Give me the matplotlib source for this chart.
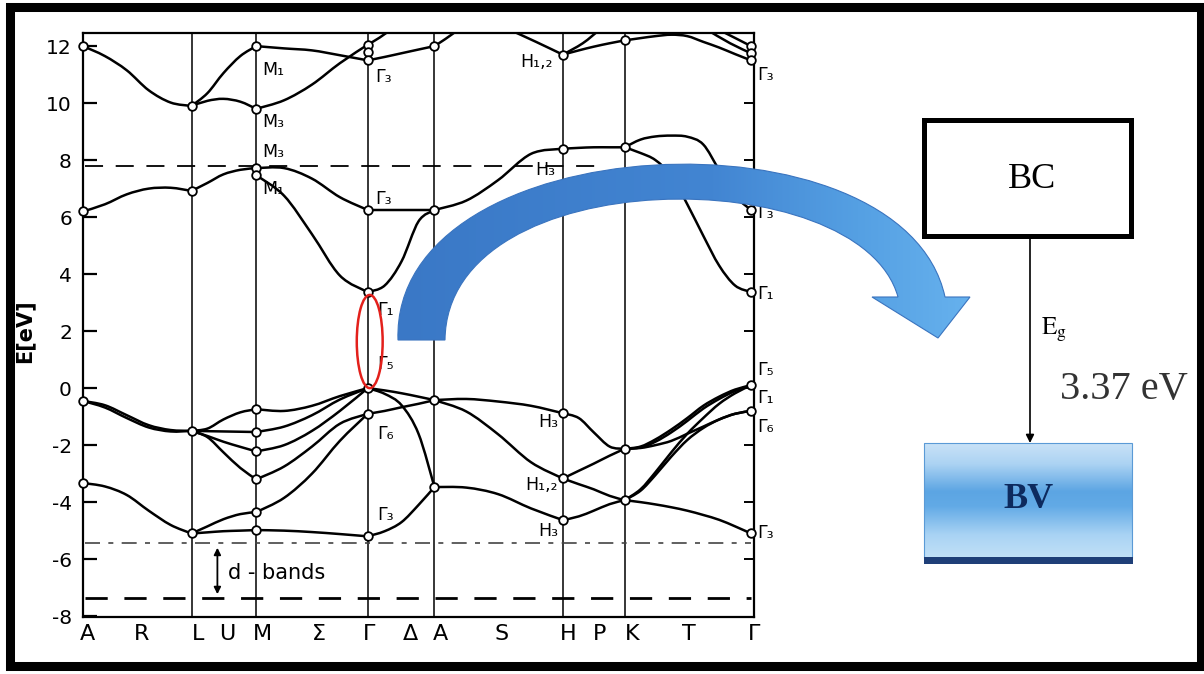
import numpy as np
import matplotlib
matplotlib.use("Agg")
import matplotlib.pyplot as plt
from matplotlib.path import Path
from matplotlib.patches import PathPatch, Rectangle, Ellipse
from matplotlib.colors import LinearSegmentedColormap

plt.rcParams["font.family"] = ["DejaVu Sans"]
plt.rcParams["mathtext.fontset"] = "stix"

W, H = 1204, 674

# ---------------------------------------------------------------- data ----
# high-symmetry points along the k-path (path-length units)
sym_k = [0.00, 1.09, 1.74, 2.86, 3.53, 4.82, 5.44, 6.71]

# labels under the axis (points and lines of the Brillouin zone)
path_labels = ["A", "R", "L", "U", "M", "Σ", "Γ", "Δ", "A", "S", "H", "P", "K", "T", "Γ"]
path_label_k = [0.04, 0.59, 1.16, 1.45, 1.80, 2.37, 2.87, 3.29, 3.59, 4.20, 4.87, 5.19, 5.52, 6.09, 6.74]

energy_ticks = [12, 10, 8, 6, 4, 2, 0, -2, -4, -6, -8]
energy_ticks_right = [10, 8, 6, 4, 2, 0, -2, -4, -6]

gap_eV = 3.37          # direct gap at Γ
level_upper = 7.8      # dashed reference level in the conduction bands
dband_top = -5.45      # d-band window
dband_bottom = -7.35

# A -> L
k_AL = [0.00, 0.22, 0.44, 0.66, 0.88, 1.09]
E_AL = [
    [12.0, 11.65, 11.15, 10.45, 10.02, 9.9],
    [6.2, 6.45, 6.8, 7.0, 7.03, 6.92],
    [-0.45, -0.6, -0.95, -1.3, -1.47, -1.5],
    [-0.45, -0.68, -1.05, -1.38, -1.52, -1.5],
    [-3.33, -3.45, -3.75, -4.3, -4.8, -5.1],
]
# L -> M
k_LM = [1.09, 1.25, 1.41, 1.58, 1.74]
E_LM = [
    [9.9, 10.35, 11.05, 11.65, 12.0],
    [9.9, 10.08, 10.15, 10.05, 9.8],
    [6.92, 7.2, 7.5, 7.66, 7.72],
    [-1.5, -1.42, -1.1, -0.85, -0.74],
    [-1.5, -1.51, -1.52, -1.53, -1.54],
    [-1.5, -1.68, -1.88, -2.06, -2.22],
    [-1.5, -1.72, -2.25, -2.8, -3.2],
    [-5.1, -4.85, -4.6, -4.42, -4.35],
    [-5.1, -5.06, -5.02, -5.0, -4.98],
]
# M -> Γ
k_MG = [1.74, 2.02, 2.30, 2.58, 2.86]
E_MG = [
    [12.0, 11.92, 11.85, 11.68, 11.5],
    [9.8, 10.1, 10.65, 11.4, 12.05],
    [7.72, 7.72, 7.35, 6.7, 6.25],
    [7.47, 6.75, 5.4, 3.95, gap_eV],
    [-0.74, -0.8, -0.62, -0.28, 0.0],
    [-1.54, -1.35, -0.95, -0.4, 0.0],
    [-2.22, -2.0, -1.5, -0.8, 0.0],
    [-3.2, -2.75, -2.05, -1.25, -0.9],
    [-4.35, -3.85, -3.0, -1.85, -0.9],
    [-4.98, -5.0, -5.05, -5.12, -5.2],
]
# Γ -> A
k_GA = [2.86, 3.03, 3.20, 3.37, 3.53]
E_GA = [
    [11.5, 11.62, 11.75, 11.88, 12.0],
    [6.25, 6.25, 6.25, 6.25, 6.25],
    [gap_eV, 3.6, 4.45, 5.85, 6.25],
    [0.0, -0.08, -0.18, -0.3, -0.42],
    [-0.9, -0.8, -0.67, -0.55, -0.42],
    [0.0, -0.2, -0.6, -1.6, -3.47],
    [-5.2, -5.02, -4.7, -4.1, -3.47],
]
# A -> H
k_AH = [3.53, 3.85, 4.17, 4.50, 4.82]
E_AH = [
    [6.25, 6.58, 7.3, 8.22, 8.4],
    [-0.42, -0.38, -0.47, -0.62, -0.88],
    [-0.42, -0.82, -1.62, -2.6, -3.17],
    [-3.47, -3.49, -3.72, -4.22, -4.63],
]
# H -> K
k_HK = [4.82, 4.98, 5.13, 5.29, 5.44]
E_HK = [
    [11.7, 11.85, 11.98, 12.1, 12.2],
    [8.4, 8.43, 8.45, 8.45, 8.45],
    [-0.88, -1.05, -1.55, -2.05, -2.13],
    [-3.17, -2.9, -2.65, -2.37, -2.13],
    [-3.17, -3.37, -3.55, -3.78, -3.93],
    [-4.63, -4.5, -4.3, -4.07, -3.93],
]
# K -> Γ
k_KG = [5.44, 5.60, 5.75, 5.91, 6.07, 6.23, 6.39, 6.55, 6.71]
E_KG = [
    [12.2, 12.28, 12.35, 12.4, 12.35, 12.15, 11.95, 11.72, 11.5],
    [8.45, 8.72, 8.83, 8.86, 8.82, 8.55, 7.65, 6.75, 6.25],
    [8.45, 8.25, 8.0, 7.45, 6.45, 5.35, 4.3, 3.6, gap_eV],
    [-2.13, -2.05, -1.8, -1.45, -1.05, -0.62, -0.3, -0.05, 0.1],
    [-2.13, -2.08, -1.88, -1.55, -1.15, -0.72, -0.38, -0.1, 0.1],
    [-2.13, -2.1, -2.0, -1.85, -1.6, -1.35, -1.1, -0.9, -0.8],
    [-3.93, -3.55, -2.95, -2.25, -1.6, -1.05, -0.55, -0.18, 0.1],
    [-3.93, -3.6, -3.05, -2.4, -1.82, -1.4, -1.1, -0.9, -0.8],
    [-3.93, -4.0, -4.08, -4.18, -4.3, -4.45, -4.62, -4.85, -5.1],
]
# short pieces of the upper bands that leave the frame
top_k = [[2.86, 2.98, 3.10], [3.53, 3.64, 3.76], [4.30, 4.55, 4.82],
         [4.82, 5.02, 5.18], [6.40, 6.57, 6.71], [6.28, 6.50, 6.71]]
top_E = [[12.05, 12.3, 12.6], [12.0, 12.25, 12.55], [12.55, 12.15, 11.7],
         [11.7, 12.1, 12.55], [12.55, 12.25, 12.0], [12.55, 12.1, 11.75]]

# band energies at the symmetry points (open circles)
nodes_A1 = [12.0, 6.2, -0.45, -3.33]
nodes_L = [9.9, 6.92, -1.5, -5.1]
nodes_M = [12.0, 9.8, 7.72, 7.47, -0.74, -1.54, -2.22, -3.2, -4.35, -4.98]
nodes_G1 = [12.05, 11.78, 11.5, 6.25, gap_eV, 0.0, -0.9, -5.2]
nodes_A2 = [12.0, 6.25, -0.42, -3.47]
nodes_H = [11.7, 8.4, -0.88, -3.17, -4.63]
nodes_K = [12.2, 8.45, -2.13, -3.93]
nodes_G2 = [12.0, 11.75, 11.5, 6.25, gap_eV, 0.1, -0.8, -5.1]

# irreducible-representation labels
rep_left_text = ["M₁", "M₃", "M₃", "M₁", "Γ₃", "Γ₃", "Γ₁", "Γ₅", "Γ₆", "Γ₃",
                 "Γ₃", "Γ₃", "Γ₁", "Γ₅", "Γ₁", "Γ₆", "Γ₃"]
rep_left_k = [1.80, 1.80, 1.80, 1.80, 2.94, 2.94, 2.96, 2.96, 2.96, 2.96,
              6.77, 6.77, 6.77, 6.77, 6.77, 6.77, 6.77]
rep_left_E = [11.15, 9.33, 8.28, 7.0, 10.9, 6.65, 2.75, 0.85, -1.6, -4.45,
              11.0, 6.15, 3.3, 0.63, -0.35, -1.37, -5.1]
rep_right_text = ["H₁,₂", "H₃", "H₃", "H₁,₂", "H₃"]
rep_right_k = [4.72, 4.74, 4.77, 4.77, 4.77]
rep_right_E = [11.45, 7.65, -1.2, -3.4, -5.0]


# ------------------------------------------------------------- helpers ----
def smooth_path(xs, ys):
    """Cubic Bezier path through the given points (Catmull-Rom tangents)."""
    p = np.column_stack([xs, ys]).astype(float)
    n = len(p)
    verts = [p[0]]
    codes = [Path.MOVETO]
    for i in range(n - 1):
        p0 = p[i - 1] if i > 0 else p[i]
        p1, p2 = p[i], p[i + 1]
        p3 = p[i + 2] if i + 2 < n else p[i + 1]
        verts += [p1 + (p2 - p0) / 6.0, p2 - (p3 - p1) / 6.0, p2]
        codes += [Path.CURVE4] * 3
    return Path(verts, codes)


def draw_band(ax, xs, ys, lw=1.8):
    ax.add_patch(PathPatch(smooth_path(xs, ys), fill=False, edgecolor="black",
                           lw=lw, capstyle="round", joinstyle="round", zorder=3))


# -------------------------------------------------------------- figure ----
fig = plt.figure(figsize=(W / 100, H / 100), dpi=100, facecolor="white")

ax = fig.add_axes([83 / W, 1 - 617 / H, 671 / W, 584 / H])
ax.set_xlim(sym_k[0], sym_k[-1])
ax.set_ylim(-8.03, 12.46)
for s in ax.spines.values():
    s.set_linewidth(1.6)

for kx in sym_k[1:-1]:
    ax.axvline(kx, color="black", lw=1.1, zorder=2)

for k_seg, E_seg in [(k_AL, E_AL), (k_LM, E_LM), (k_MG, E_MG), (k_GA, E_GA),
                     (k_AH, E_AH), (k_HK, E_HK), (k_KG, E_KG)]:
    for band in E_seg:
        draw_band(ax, k_seg, band)
for kk, ee in zip(top_k, top_E):
    draw_band(ax, kk, ee)

for kx, nodes in zip(sym_k, [nodes_A1, nodes_L, nodes_M, nodes_G1,
                             nodes_A2, nodes_H, nodes_K, nodes_G2]):
    ax.plot([kx] * len(nodes), nodes, "o", ms=6.2, mfc="white", mec="black",
            mew=1.3, zorder=4, clip_on=False)

# reference levels
ax.plot([0.02, 5.2], [level_upper] * 2, color="black", lw=1.3,
        dashes=(10, 7), zorder=2)
ax.plot([0.02, sym_k[-1]], [dband_top] * 2, color="#444444", lw=1.2,
        dashes=(9, 5, 3, 5), zorder=2)
ax.plot([0.02, sym_k[-1]], [dband_bottom] * 2, color="black", lw=2.0,
        dashes=(8, 6), zorder=2)
ax.annotate("", xy=(1.35, dband_bottom + 0.12), xytext=(1.35, dband_top - 0.15),
            arrowprops=dict(arrowstyle="<|-|>", color="black", lw=1.3,
                            mutation_scale=10, shrinkA=0, shrinkB=0))
ax.text(1.46, (dband_top + dband_bottom) / 2 - 0.1, "d - bands", fontsize=15,
        va="center", ha="left")

for t, kx, ey in zip(rep_left_text, rep_left_k, rep_left_E):
    ax.text(kx, ey, t, fontsize=12.5, ha="left", va="center", zorder=5)
for t, kx, ey in zip(rep_right_text, rep_right_k, rep_right_E):
    ax.text(kx, ey, t, fontsize=12.5, ha="right", va="center", zorder=5)

# highlighted gap at Γ
ax.add_patch(Ellipse((sym_k[3] + 0.02, gap_eV / 2 - 0.05), width=0.26,
                     height=gap_eV - 0.1, fill=False, edgecolor="#e3201b",
                     lw=1.8, zorder=6))

# axes ticks and labels
ax.set_yticks(energy_ticks)
ax.set_yticklabels([str(v) for v in energy_ticks])
ax.tick_params(axis="y", direction="in", length=10, width=1.6, labelsize=14.5,
               pad=8, left=True, right=False)
ax.set_xticks(path_label_k)
ax.set_xticklabels(path_labels)
ax.tick_params(axis="x", length=0, labelsize=16, pad=5)
ax.set_ylabel("E[eV]", fontsize=15, fontweight="bold")
ax.yaxis.set_label_coords(-0.072, 0.49)

sec = ax.secondary_yaxis("right")
sec.set_yticks(energy_ticks_right)
sec.tick_params(direction="in", length=7, width=1.4, labelright=False)
sec.spines["right"].set_visible(False)

# ------------------------------------------------------- overlay drawing ----
ov = fig.add_axes([0, 0, 1, 1])
ov.set_zorder(5)
ov.patch.set_visible(False)
ov.axis("off")

# curved blue arrow
arrow_verts = [(398, 340), (391, 125), (903, 103), (945, 297),
               (970, 297), (938, 338), (872, 297), (898, 297),
               (860, 160), (447, 160), (445, 340), (398, 340)]
arrow_codes = [Path.MOVETO, Path.CURVE4, Path.CURVE4, Path.CURVE4,
               Path.LINETO, Path.LINETO, Path.LINETO, Path.LINETO,
               Path.CURVE4, Path.CURVE4, Path.CURVE4, Path.CLOSEPOLY]
arrow_patch = PathPatch(Path(arrow_verts, arrow_codes), facecolor="none",
                        edgecolor="#3a74bf", lw=0.8, zorder=7)
ov.add_patch(arrow_patch)
arrow_cmap = LinearSegmentedColormap.from_list(
    "arrow", [(0, "#3a78c6"), (0.55, "#4285d2"), (0.8, "#55a0e3"), (1, "#67b2ee")])
grad = ov.imshow(np.linspace(0, 1, 256).reshape(1, -1), cmap=arrow_cmap,
                 extent=(395, 975, 345, 140), aspect="auto", zorder=6,
                 interpolation="bilinear")
grad.set_clip_path(arrow_patch)

# conduction / valence band boxes
ov.add_patch(Rectangle((924, 120), 207, 116, facecolor="white",
                       edgecolor="black", lw=3.6, zorder=6))
ov.text(1032, 179, "BC", fontsize=26, family="Liberation Serif",
        ha="center", va="center", zorder=7)

bv_cmap = LinearSegmentedColormap.from_list(
    "bv", [(0, "#c9e2f7"), (0.18, "#acd3f3"), (0.42, "#5ca5e3"),
           (0.55, "#62aae6"), (0.8, "#a9d3f4"), (1, "#c2e1f7")])
ov.imshow(np.linspace(0, 1, 256).reshape(-1, 1), cmap=bv_cmap,
          extent=(924, 1132, 558, 443), aspect="auto", zorder=6,
          interpolation="bilinear")
ov.add_patch(Rectangle((924, 443), 208, 115, fill=False, edgecolor="#5a9ad6",
                       lw=0.8, zorder=7))
ov.add_patch(Rectangle((924, 557), 209, 7, facecolor="#1f3f78",
                       edgecolor="none", zorder=7))
ov.text(1029, 499, "BV", fontsize=26, family="Liberation Serif",
        weight="bold", color="#0d2a5e", ha="center", va="center", zorder=8)

ov.annotate("", xy=(1030, 443), xytext=(1030, 236),
            arrowprops=dict(arrowstyle="-|>", color="black", lw=1.2,
                            mutation_scale=12, shrinkA=0, shrinkB=0), zorder=6)
ov.text(1041, 330, r"$\mathrm{E_g}$", fontsize=18, ha="left", va="center")
ov.text(1060, 390, f"{gap_eV:.2f} eV", fontsize=29, family="Liberation Serif",
        color="#333333", ha="left", va="center")

# outer frame
ov.add_patch(Rectangle((10, 6.5), 1191, 659.5, fill=False, edgecolor="black",
                       lw=6.5, zorder=9, clip_on=False))

ov.set_xlim(0, W)
ov.set_ylim(H, 0)

fig.savefig("out.png", dpi=100, facecolor="white")
